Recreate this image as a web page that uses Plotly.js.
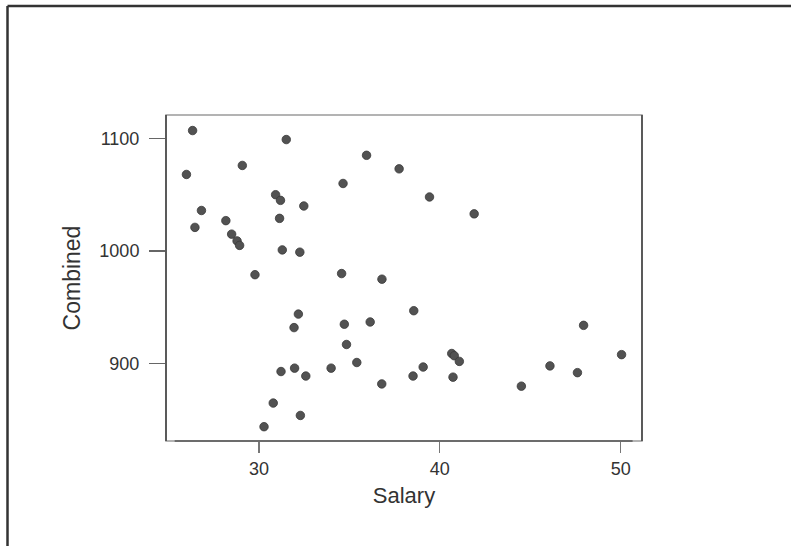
<!DOCTYPE html>
<html>
<head>
<meta charset="utf-8">
<script src="https://cdn.plot.ly/plotly-3.0.1.min.js"></script>
<style>
html,body{margin:0;padding:0;background:#fff;}
#chart{width:791px;height:546px;}
</style>
</head>
<body>
<div id="chart"></div>
<script>
// Salary (thousands) vs Combined score
const salary = [26.33, 31.51, 25.99, 29.08, 35.95, 37.75, 34.65, 39.43, 30.92, 31.19,
                32.48, 26.82, 41.90, 28.17, 31.14, 26.46, 28.49, 28.79, 28.93, 31.29,
                32.26, 29.78, 34.57, 36.80, 38.56, 32.18, 47.95, 34.72, 36.15, 31.94,
                34.84, 40.66, 40.80, 50.05, 41.08, 35.41, 46.09, 39.08, 31.97, 33.99,
                31.22, 47.61, 32.59, 38.52, 40.73, 36.79, 44.51, 30.79, 32.29, 30.28];
const combined = [1107, 1099, 1068, 1076, 1085, 1073, 1060, 1048, 1050, 1045,
                  1040, 1036, 1033, 1027, 1029, 1021, 1015, 1009, 1005, 1001,
                  999, 979, 980, 975, 947, 944, 934, 935, 937, 932,
                  917, 909, 907, 908, 902, 901, 898, 897, 896, 896,
                  893, 892, 889, 889, 888, 882, 880, 865, 854, 844];
const xTickVals = [30, 40, 50];
const yTickVals = [900, 1000, 1100];

const xRange = [24.86, 51.18];
const yRange = [831.3, 1120.8];

const trace = {
  type: 'scatter',
  mode: 'markers',
  x: salary,
  y: combined,
  marker: {size: 8.5, color: '#525252', line: {color: '#3a3a3a', width: 0.8}},
  hoverinfo: 'x+y'
};

const font = {family: '"Liberation Sans", Arial, sans-serif', color: '#333'};

const layout = {
  width: 791, height: 546,
  margin: {l: 166, r: 149, t: 115, b: 105},
  paper_bgcolor: '#fff', plot_bgcolor: '#fff',
  showlegend: false,
  font: font,
  xaxis: {
    range: xRange, tickvals: xTickVals, ticktext: xTickVals.map(String),
    ticks: 'outside', ticklen: 11, tickwidth: 1.3, tickcolor: '#777',
    showgrid: false, zeroline: false, showline: false,
    tickfont: {family: font.family, size: 18, color: '#333'},
    title: {text: 'Salary', font: {family: font.family, size: 22, color: '#333'}, standoff: 10}
  },
  yaxis: {
    range: yRange, tickvals: yTickVals, ticktext: yTickVals.map(String),
    ticks: 'outside', ticklen: 16, tickwidth: 1.3, tickcolor: '#666',
    showgrid: false, zeroline: false, showline: false,
    tickfont: {family: font.family, size: 18, color: '#333'},
    ticklabelstandoff: 6,
    title: {text: 'Combined', font: {family: font.family, size: 23, color: '#333'}, standoff: 12}
  },
  shapes: [
    {type: 'rect', xref: 'paper', yref: 'paper', x0: 0, x1: 1, y0: 0, y1: 1,
     line: {color: '#9a9a9a', width: 1.5}},
    {type: 'line', xref: 'paper', yref: 'paper', x0: 0, x1: 0, y0: 0, y1: 1,
     line: {color: '#444', width: 1.6}},
    {type: 'line', xref: 'paper', yref: 'paper', x0: 1, x1: 1, y0: 0, y1: 1,
     line: {color: '#444', width: 1.6}},
    {type: 'line', xref: 'x', yref: 'paper', x0: 25.34, x1: 50.66, y0: 0, y1: 0,
     line: {color: '#555', width: 1.6}},
    // outer frame (left and top edges)
    {type: 'line', xref: 'paper', yref: 'paper',
     x0: (7.5 - 166) / 476, x1: (7.5 - 166) / 476, y0: -0.5, y1: 1 + (115 - 6) / 326,
     line: {color: '#333', width: 2.5}},
    {type: 'line', xref: 'paper', yref: 'paper',
     x0: (7.5 - 166) / 476, x1: (795 - 166) / 476, y0: 1 + (115 - 6) / 326, y1: 1 + (115 - 6) / 326,
     line: {color: '#333', width: 2.5}}
  ]
};

Plotly.newPlot('chart', [trace], layout, {displayModeBar: false, staticPlot: true});
</script>
</body>
</html>
